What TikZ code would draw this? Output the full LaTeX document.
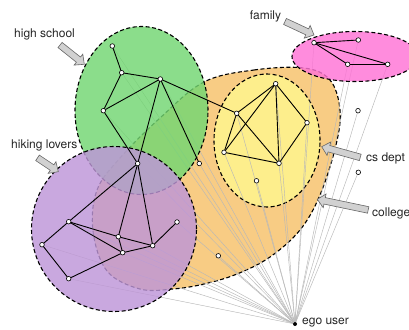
\documentclass[tikz,border=0pt]{standalone}
\usepackage{fontspec}
\setmainfont{TeX Gyre Heros}
\definecolor{cgreen}{RGB}{114,214,114}
\definecolor{cpurple}{RGB}{190,150,216}
\definecolor{cyellow}{RGB}{255,246,142}
\definecolor{corange}{RGB}{247,193,106}
\definecolor{cpink}{RGB}{255,115,214}
\tikzset{
  grp/.style={draw=black, line width=1.1pt, dash pattern=on 4pt off 2.5pt, fill opacity=0.82},
  vtx/.style={circle, draw=black, fill=white, line width=0.6pt, minimum size=4.6pt, inner sep=0pt},
  egonode/.style={circle, fill=black, minimum size=4pt, inner sep=0pt},
  link/.style={black, line width=0.9pt},
  egolink/.style={black!28, line width=0.45pt},
  lbl/.style={font=\fontsize{12}{14}\selectfont, text=black!85, anchor=west, inner sep=0pt},
  blockarrow/.style={draw=black!60, fill=black!18, line width=0.6pt, line join=miter}
}
\newcommand{\blockarr}[4]{% tip x, tip y, angle, length
  \begin{scope}[shift={(#1,#2)}, x=1pt, y=1pt, rotate=#3]
    \path[blockarrow] (0,0) -- (-7.5,7) -- (-7.5,3.3) -- (-#4,3.3) -- (-#4,-3.3)
      -- (-7.5,-3.3) -- (-7.5,-7) -- cycle;
  \end{scope}}
\begin{document}
\begin{tikzpicture}[x=1pt,y=-1pt]
\clip (0,0) rectangle (409,329);
\fill[white] (0,0) rectangle (409,329);
% lower group regions
\path[grp, fill=corange] plot[smooth cycle, tension=0.6] coordinates {
  (204,82) (254,70) (304,68) (330,80) (340,110) (336,145) (320,195) (300,230)
  (270,257) (237,274) (204,284) (173,289) (140,289) (107,271) (93,231) (97,190)
  (120,158) (160,118)};
\path[grp, fill=cyellow] (267,140.5) ellipse [x radius=53pt, y radius=66.5pt];
% nodes
\node[egonode] (ego) at (295,324) {};
\foreach \n/\x/\y in {A/112.3/46, B/121.7/72.7, C/160.3/79, D/103.3/110.7,
  E/137.7/163.5, F/199.3/163.5, G/236.7/113.3, H/275.7/83.7, I/307/122.7,
  J/224/152.3, K/279/163.3, L/256.5/180.8, M/314/42.7, N/358.3/40,
  O/347.7/64.3, P/387.7/64.3, X1/358/110.7, X2/358.3/172.3, Y/218.3/255.8,
  Q/177/222, R/68.7/221.7, S/42/244.7, T/68.7/278.7, U/118.3/236.7,
  V/122.7/252.7, W/152.7/245.7}
  \coordinate (p\n) at (\x,\y);
% ego connectors
\foreach \n in {A,B,C,D,E,F,G,H,I,J,K,L,M,N,O,P,X1,X2,Y,Q,R,S,T,U,V,W}
  \draw[egolink] (ego) -- (p\n);
% upper group regions
\path[grp, fill=cgreen] (141.5,110.5) ellipse [x radius=66.5pt, y radius=84pt];
\path[grp, fill=cpurple] (114,229) circle [radius=82.5pt];
\path[grp, fill=cpink] (355,56.5) ellipse [x radius=63pt, y radius=25pt];
% network connectors
\foreach \a/\b in {A/B, B/C, B/D, C/D, D/E, C/E, C/F, C/G, G/J, G/K, G/H, H/J,
  H/K, H/I, I/K, J/K, M/N, M/O, M/P, O/P, E/R, E/U, E/W, R/S, R/U, R/V, U/V,
  U/W, V/W, S/T, T/V, W/Q}
  \draw[link] (p\a) -- (p\b);
\foreach \n in {A,B,C,D,E,F,G,H,I,J,K,L,M,N,O,P,X1,X2,Y,Q,R,S,T,U,V,W}
  \node[vtx] (\n) at (p\n) {};
% arrows
\blockarr{84.3}{64.3}{-38.5}{31}
\blockarr{58.3}{171.7}{-33.7}{25}
\blockarr{314}{35}{-25}{32}
\blockarr{321.7}{146.7}{164.5}{40}
\blockarr{317.3}{199.3}{168.2}{52}
% labels
\node[lbl] (ths) at (14,34) {high school};
\node[lbl] (thl) at (11,145.5) {hiking lovers};
\node[lbl] (tfa) at (249.7,16.5) {family};
\node[lbl] (tcs) at (366,158) {cs dept};
\node[lbl] (tco) at (372,213) {college};
\node[lbl] (teg) at (302,323) {ego user};
\end{tikzpicture}
\end{document}
